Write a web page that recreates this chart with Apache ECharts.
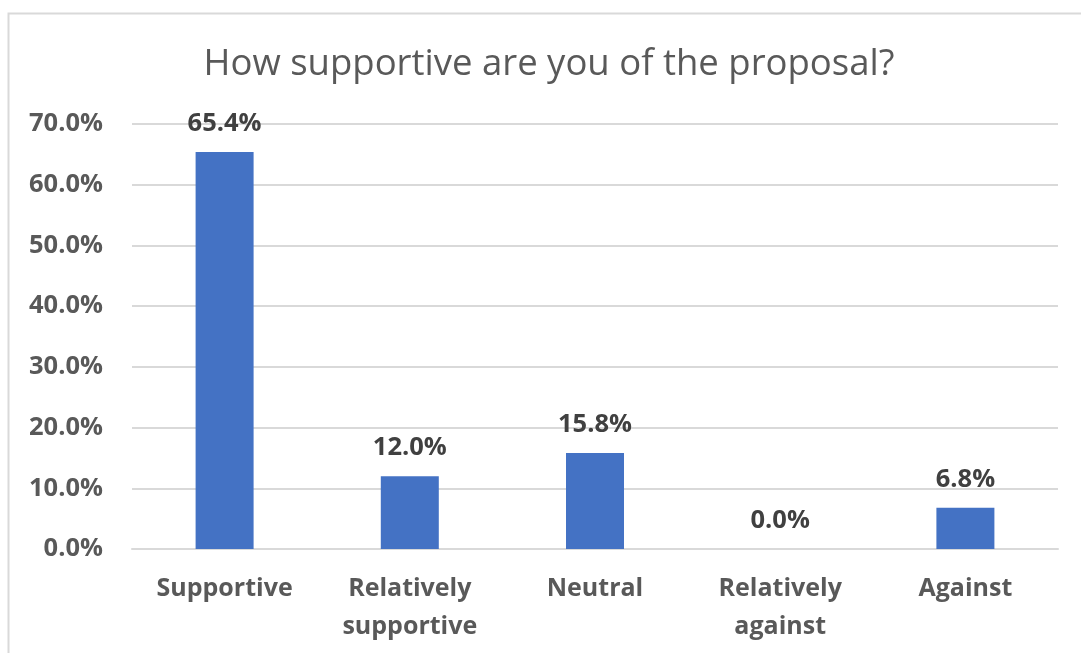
<!DOCTYPE html>
<html>
<head>
<meta charset="utf-8">
<script src="https://cdn.jsdelivr.net/npm/echarts@6/dist/echarts.min.js"></script>
<style>
html,body{margin:0;padding:0;background:#fff;}
#chart{width:1081px;height:653px;}
</style>
</head>
<body>
<div id="chart"></div>
<script>
const titleText = 'How supportive are you of the proposal?';
const categories = ['Supportive', 'Relatively\nsupportive', 'Neutral', 'Relatively\nagainst', 'Against'];
const values = [65.4, 12.0, 15.8, 0.0, 6.8];
const yTicks = [0, 10, 20, 30, 40, 50, 60, 70];

const chart = echarts.init(document.getElementById('chart'));
const font = '"Open Sans", "Noto Sans", sans-serif';
chart.setOption({
  animation: false,
  backgroundColor: '#ffffff',
  graphic: [{
    type: 'rect',
    shape: { x: 8.5, y: 13.5, width: 1100, height: 700 },
    style: { fill: 'none', stroke: '#d9d9d9', lineWidth: 2 },
    silent: true
  }, {
    type: 'text',
    x: 549, y: 65,
    style: {
      text: titleText, align: 'center', verticalAlign: 'middle',
      font: 'normal 36.5px ' + font, fill: '#595959'
    },
    silent: true
  }],
  grid: { left: 132, right: 23, top: 124, bottom: 104 },
  xAxis: {
    type: 'category',
    data: categories,
    axisLine: { show: true, lineStyle: { color: '#d9d9d9', width: 2 } },
    axisTick: { show: false },
    axisLabel: {
      fontFamily: font, fontSize: 25, fontWeight: 'bold', color: '#595959',
      lineHeight: 38, margin: 21, interval: 0
    }
  },
  yAxis: {
    type: 'value',
    min: yTicks[0],
    max: yTicks[yTicks.length - 1],
    interval: 10,
    axisLine: { show: false },
    axisTick: { show: false },
    splitLine: { lineStyle: { color: '#d9d9d9', width: 2 } },
    axisLabel: {
      fontFamily: font, fontSize: 25.5, fontWeight: 'bold', color: '#595959', margin: 29,
      formatter: v => v.toFixed(1) + '%'
    }
  },
  series: [{
    type: 'bar',
    data: values,
    barWidth: 58,
    itemStyle: { color: '#4472C4' },
    label: {
      show: true,
      position: 'top',
      distance: 15,
      fontFamily: font, fontSize: 25.5, fontWeight: 'bold', color: '#404040',
      formatter: p => p.value.toFixed(1) + '%'
    }
  }]
});
</script>
</body>
</html>
